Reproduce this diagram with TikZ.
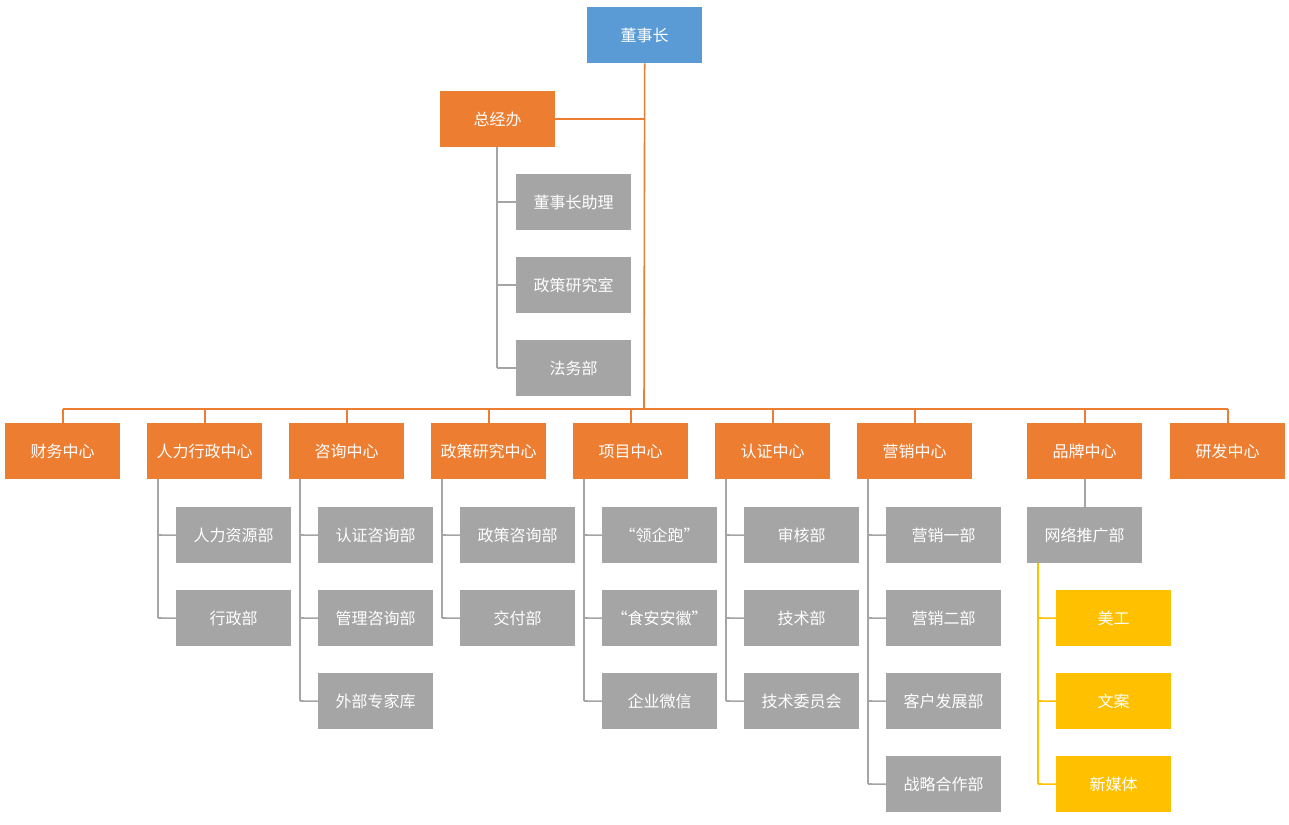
\documentclass[tikz,border=0pt]{standalone}
\usepackage{fontspec}
\newfontfamily\cjk{Noto Sans CJK SC}
\definecolor{bl}{RGB}{91,155,213}
\definecolor{og}{RGB}{237,125,49}
\definecolor{gy}{RGB}{165,165,165}
\definecolor{yl}{RGB}{255,192,0}
\begin{document}
\begin{tikzpicture}[x=1pt,y=-1pt,
 bx/.style={minimum width=115pt,minimum height=56pt,inner sep=0pt,text=white,font=\cjk\fontsize{16}{18}\selectfont,anchor=north west},
 ob/.style={bx,fill=og},gb/.style={bx,fill=gy},yb/.style={bx,fill=yl},
 ol/.style={draw=og,line width=1.6pt},gl/.style={draw=gy,line width=1.6pt},yll/.style={draw=yl,line width=1.6pt}]
\useasboundingbox (0,0) rectangle (1289,824);
\node[bx,fill=bl] (ceo) at (587,7) {董事长};
\node[ob] (zj) at (440,91) {总经办};
\foreach \t/\y [count=\i] in {董事长助理/174,政策研究室/257,法务部/340}
 \node[gb] (z\i) at (516,\y) {\t};
\coordinate (bus) at (644,409);
\draw[ol] (ceo.south) -- (bus);
\draw[ol] (zj.east) -- (zj.east -| ceo.south);
\draw[gl] ([xshift=-58pt+57pt]zj.south west) ++(0,0);
\draw[gl] (497,147) -- (497,368);
\foreach \i in {1,2,3} \draw[gl] (z\i.west) -- (z\i.west -| 497,0);
\foreach \t/\x [count=\i] in {财务中心/5,人力行政中心/147,咨询中心/289,政策研究中心/431,项目中心/573,认证中心/715,营销中心/857,品牌中心/1027,研发中心/1170}
 {\node[ob] (c\i) at (\x,423) {\t};}
\draw[ol] (c1.north |- bus) -- (c9.north |- bus);
\foreach \i in {1,...,9} \draw[ol] (c\i.north) -- (c\i.north |- bus);
\newcommand\subs[3]{% parent idx, left x, list
 \foreach \t [count=\j] in {#3} {
  \pgfmathsetmacro\yy{507+83*(\j-1)}
  \node[gb] (s#1-\j) at (#2+29,\yy) {\t};
  \draw[gl] (s#1-\j.west) -- (#2+11,\yy+28);
  \xdef\lastj{\j}}
 \draw[gl] (#2+11,479) -- (s#1-\lastj.west -| #2+11,0);}
\subs{2}{147}{人力资源部,行政部}
\subs{3}{289}{认证咨询部,管理咨询部,外部专家库}
\subs{4}{431}{政策咨询部,交付部}
\subs{5}{573}{“领企跑”,“食安安徽”,企业微信}
\subs{6}{715}{审核部,技术部,技术委员会}
\subs{7}{857}{营销一部,营销二部,客户发展部,战略合作部}
\node[gb] (wl) at (1027,507) {网络推广部};
\draw[gl] (c8.south) -- (wl.north);
\foreach \t [count=\j] in {美工,文案,新媒体} {
 \pgfmathsetmacro\yy{590+83*(\j-1)}
 \node[yb] (y\j) at (1056,\yy) {\t};
 \draw[yll] (y\j.west) -- (1038,\yy+28);}
\draw[yll] (1038,563) -- (y3.west -| 1038,0);
\end{tikzpicture}
\end{document}
